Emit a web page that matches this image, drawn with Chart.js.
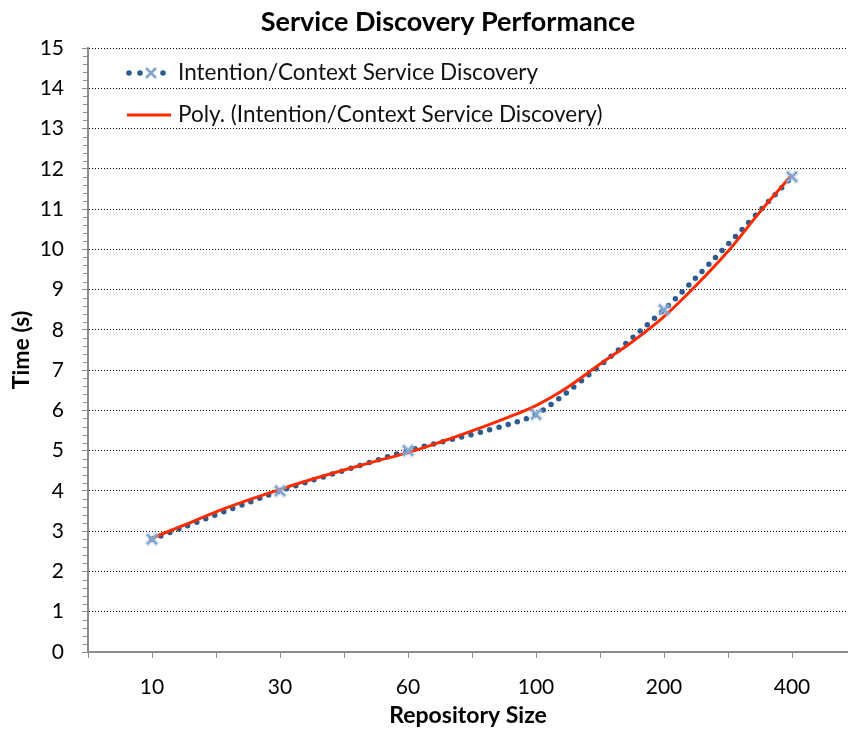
<!DOCTYPE html>
<html>
<head>
<meta charset="utf-8">
<script src="https://cdn.jsdelivr.net/npm/chart.js@4.4.1/dist/chart.umd.min.js"></script>
<style>
  html, body { margin: 0; padding: 0; background: #fff; }
</style>
</head>
<body>
<canvas id="myChart" width="848" height="729"></canvas>
<script>
// judul dan nama seri
const chartTitle = 'Service Discovery Performance';
const seriesName = 'Intention/Context Service Discovery';
const trendName = 'Poly. (Intention/Context Service Discovery)';

// kategori sumbu x (repository size) dan waktu (s)
const categories = ['10', '30', '60', '100', '200', '400'];
const times = [2.8, 4.0, 5.0, 5.9, 8.5, 11.8];

// garis tren polinomial (x = posisi kategori, 1 = "10")
const trendX = [1, 1.25, 1.5, 1.75, 2, 2.25, 2.5, 2.75, 3, 3.25, 3.5, 3.75, 4, 4.25, 4.5, 4.75, 5, 5.25, 5.5, 5.75, 6];
const trendY = [2.83, 3.15, 3.48, 3.77, 4.04, 4.29, 4.52, 4.74, 4.95, 5.21, 5.49, 5.79, 6.12, 6.58, 7.15, 7.7, 8.33, 9.1, 9.95, 10.93, 11.85];

const yMin = 0;
const yMax = 15;

const dotBlue = '#2c5b8f';
const markBlue = '#7fa5d0';
const trendRed = '#ff2a00';
const axisGray = '#8c8c8c';

Chart.defaults.font.family = 'Lato, "Open Sans", sans-serif';
Chart.defaults.color = '#000';

const seriesPoints = times.map((v, i) => ({ x: i + 1, y: v }));
const trendPoints = trendX.map((x, i) => ({ x: x, y: trendY[i] }));

// plugin untuk judul, legenda di dalam plot, dan tick minor sumbu y
const extras = {
  id: 'extras',
  afterDraw(chart) {
    const ctx = chart.ctx;
    const yScale = chart.scales.y;
    ctx.save();

    // tick minor tiap 0.2
    ctx.strokeStyle = axisGray;
    ctx.lineWidth = 1;
    for (let i = 0; i <= (yMax - yMin) * 5; i++) {
      if (i % 5 === 0) continue;
      const py = Math.round(yScale.getPixelForValue(yMin + i / 5)) + 0.5;
      ctx.beginPath();
      ctx.moveTo(yScale.right - 5, py);
      ctx.lineTo(yScale.right, py);
      ctx.stroke();
    }

    // judul
    ctx.fillStyle = '#000';
    ctx.font = 'bold 27px Lato, sans-serif';
    ctx.textAlign = 'center';
    ctx.textBaseline = 'middle';
    ctx.fillText(chartTitle, 448, 22);

    // legenda baris 1: garis titik-titik + penanda x
    ctx.fillStyle = dotBlue;
    [129, 140, 163].forEach(px => {
      ctx.beginPath();
      ctx.arc(px, 73, 2.8, 0, Math.PI * 2);
      ctx.fill();
    });
    ctx.strokeStyle = markBlue;
    ctx.lineWidth = 2.5;
    ctx.beginPath();
    ctx.moveTo(146, 68); ctx.lineTo(156, 78);
    ctx.moveTo(156, 68); ctx.lineTo(146, 78);
    ctx.stroke();

    // legenda baris 2: garis merah
    ctx.strokeStyle = trendRed;
    ctx.lineWidth = 3;
    ctx.beginPath();
    ctx.moveTo(127, 115); ctx.lineTo(171, 115);
    ctx.stroke();

    ctx.fillStyle = '#111';
    ctx.font = '22.5px Lato, sans-serif';
    ctx.textAlign = 'left';
    ctx.fillText(seriesName, 178, 73);
    ctx.fillText(trendName, 178, 115);

    ctx.restore();
  }
};

const ctx = document.getElementById('myChart').getContext('2d');
const myChart = new Chart(ctx, {
  type: 'scatter',
  data: {
    datasets: [
      {
        // penanda x (cahaya samar)
        label: seriesName + ' glow',
        data: seriesPoints,
        showLine: false,
        pointStyle: 'crossRot',
        pointRadius: 8,
        borderWidth: 6,
        borderColor: 'rgba(170, 190, 215, 0.35)',
        order: 1
      },
      {
        label: seriesName + ' markers',
        data: seriesPoints,
        showLine: false,
        pointStyle: 'crossRot',
        pointRadius: 7,
        borderWidth: 2.5,
        borderColor: markBlue,
        order: 0
      },
      {
        label: trendName,
        data: trendPoints,
        showLine: true,
        borderColor: trendRed,
        borderWidth: 3,
        pointRadius: 0,
        cubicInterpolationMode: 'monotone',
        order: 2
      },
      {
        label: seriesName,
        data: seriesPoints,
        showLine: true,
        borderColor: dotBlue,
        borderWidth: 5.5,
        borderDash: [0, 9.6],
        borderCapStyle: 'round',
        tension: 0.18,
        pointRadius: 0,
        order: 3
      }
    ]
  },
  options: {
    responsive: false,
    animation: false,
    layout: { autoPadding: false, padding: { top: 48, right: 0, bottom: 0, left: 0 } },
    plugins: {
      legend: { display: false },
      title: { display: false },
      tooltip: { enabled: false }
    },
    scales: {
      x: {
        type: 'linear',
        min: 0.5,
        max: 0.5 + (848 - 88) / 128,
        afterBuildTicks: (scale) => {
          const t = [];
          categories.forEach((c, i) => { t.push({ value: i + 0.5 }, { value: i + 1 }); });
          scale.ticks = t;
        },
        afterFit: (scale) => {
          scale.height = 77;
          scale.paddingLeft = 0;
          scale.paddingRight = 0;
        },
        ticks: {
          autoSkip: false,
          maxRotation: 0,
          padding: 17,
          font: { size: 21 },
          callback: (value) => Number.isInteger(value) ? categories[value - 1] : ''
        },
        grid: {
          drawOnChartArea: false,
          drawTicks: true,
          tickLength: 6,
          tickColor: axisGray,
          tickWidth: 1
        },
        border: { color: axisGray, width: 2 },
        title: {
          display: true,
          text: 'Repository Size',
          font: { size: 23, weight: 'bold' },
          padding: { top: 0, bottom: 0 }
        }
      },
      y: {
        min: yMin,
        max: yMax,
        afterFit: (scale) => { scale.width = 88; },
        ticks: {
          stepSize: 1,
          padding: 18,
          font: { size: 21 }
        },
        grid: {
          color: (c) => c.tick && c.tick.value === yMin ? 'rgba(0,0,0,0)' : '#000',
          lineWidth: 1,
          drawTicks: true,
          tickLength: 6,
          tickColor: axisGray,
          tickWidth: 1
        },
        border: { color: axisGray, width: 2, dash: [1, 2] },
        title: {
          display: true,
          text: 'Time (s)',
          font: { size: 23, weight: 'bold' },
          padding: { top: 8, bottom: 0 }
        }
      }
    }
  },
  plugins: [extras]
});
</script>
</body>
</html>
